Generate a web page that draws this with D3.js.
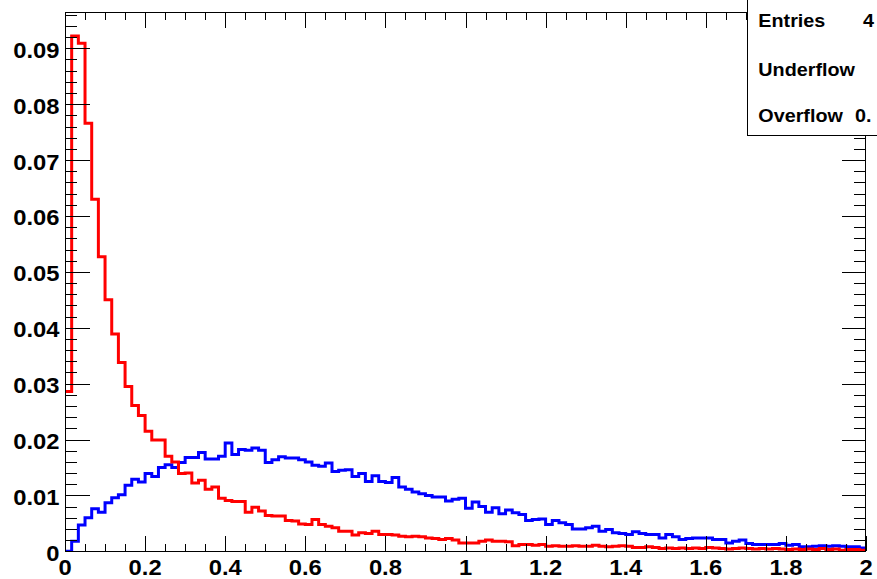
<!DOCTYPE html>
<html>
<head>
<meta charset="utf-8">
<script src="https://cdn.jsdelivr.net/npm/d3@7"></script>
<style>
  html, body { margin: 0; padding: 0; background: #fff; }
  svg { display: block; }
  text { font-family: "Liberation Sans", Arial, Helvetica, sans-serif; font-weight: bold; fill: #000; }
</style>
</head>
<body>
<svg id="chart" width="877" height="579"></svg>
<script>
// ---- data (120 bins over 0..2) ----
const xDomain = [0, 2];
const nBins = 120;
const xTickLabels = ["0", "0.2", "0.4", "0.6", "0.8", "1", "1.2", "1.4", "1.6", "1.8", "2"];
const yTickLabels = ["0", "0.01", "0.02", "0.03", "0.04", "0.05", "0.06", "0.07", "0.08", "0.09"];

const redValues = [
  0.0286, 0.0922, 0.0909, 0.0766, 0.0630, 0.0527, 0.0450, 0.0389, 0.0338, 0.0295,
  0.0261, 0.0243, 0.0215, 0.0199, 0.0199, 0.0170, 0.0160, 0.0139, 0.0140, 0.0122,
  0.0127, 0.0111, 0.0115, 0.0095, 0.0091, 0.0089, 0.0089, 0.0070, 0.0079, 0.0072,
  0.0064, 0.0063, 0.0063, 0.0055, 0.0054, 0.0049, 0.0048, 0.0057, 0.0048, 0.0045,
  0.0042, 0.0036, 0.0036, 0.0029, 0.0033, 0.0032, 0.0036, 0.0030, 0.0030, 0.0029,
  0.0027, 0.0026, 0.0027, 0.0026, 0.0024, 0.0023, 0.0021, 0.0023, 0.0020, 0.0015,
  0.0015, 0.0015, 0.0018, 0.0020, 0.0018, 0.0018, 0.0017, 0.0010, 0.0012, 0.0012,
  0.0011, 0.0012, 0.0009, 0.0010, 0.0009, 0.0009, 0.0010, 0.0009, 0.0009, 0.0011,
  0.0009, 0.0008, 0.0009, 0.0010, 0.0009, 0.0007, 0.0007, 0.0008, 0.0007, 0.0005,
  0.0006, 0.0005, 0.0006, 0.0005, 0.0006, 0.0005, 0.0007, 0.0006, 0.0005, 0.0004,
  0.0005, 0.0006, 0.0005, 0.0004, 0.0005, 0.0004, 0.0005, 0.0004, 0.0003, 0.0004,
  0.0003, 0.0004, 0.0003, 0.0005, 0.0003, 0.0004, 0.0002, 0.0003, 0.0003, 0.0002
];

const blueValues = [
  0.0000, 0.0018, 0.0047, 0.0060, 0.0076, 0.0070, 0.0087, 0.0096, 0.0101, 0.0118,
  0.0129, 0.0124, 0.0139, 0.0134, 0.0150, 0.0155, 0.0150, 0.0159, 0.0168, 0.0168,
  0.0177, 0.0165, 0.0165, 0.0170, 0.0194, 0.0173, 0.0182, 0.0181, 0.0185, 0.0181,
  0.0159, 0.0164, 0.0169, 0.0167, 0.0167, 0.0164, 0.0160, 0.0154, 0.0152, 0.0158,
  0.0143, 0.0145, 0.0146, 0.0134, 0.0139, 0.0125, 0.0135, 0.0125, 0.0123, 0.0132,
  0.0115, 0.0111, 0.0106, 0.0103, 0.0100, 0.0097, 0.0097, 0.0090, 0.0093, 0.0095,
  0.0077, 0.0088, 0.0080, 0.0070, 0.0078, 0.0067, 0.0074, 0.0069, 0.0066, 0.0055,
  0.0057, 0.0058, 0.0048, 0.0055, 0.0051, 0.0048, 0.0040, 0.0040, 0.0042, 0.0045,
  0.0036, 0.0039, 0.0033, 0.0032, 0.0030, 0.0035, 0.0032, 0.0030, 0.0030, 0.0024,
  0.0030, 0.0026, 0.0021, 0.0023, 0.0024, 0.0024, 0.0024, 0.0021, 0.0021, 0.0015,
  0.0018, 0.0020, 0.0014, 0.0012, 0.0012, 0.0012, 0.0012, 0.0014, 0.0011, 0.0012,
  0.0008, 0.0008, 0.0009, 0.0010, 0.0009, 0.0010, 0.0009, 0.0008, 0.0008, 0.0006
];

const statsLabels = ["Entries", "Underflow", "Overflow"];
const statsValues = ["4", "", "0."];

(function () {
// ---- layout ----
const W = 877, H = 579;
const pLeft = 65, pRight = 866, pTop = 12.2, pBottom = 551.3;
const yMax = 0.09646;

const svg = d3.select("#chart");
svg.append("rect").attr("width", W).attr("height", H).attr("fill", "#fff");

const x = d3.scaleLinear().domain(xDomain).range([pLeft, pRight]);
const y = d3.scaleLinear().domain([0, yMax]).range([pBottom, pTop]);

const binW = (xDomain[1] - xDomain[0]) / nBins;

function histPoints(vals) {
  const pts = vals.map((v, i) => [xDomain[0] + i * binW, v]);
  pts.push([xDomain[1], vals[vals.length - 1]]);
  return pts;
}

const line = d3.line()
  .x(d => x(d[0]))
  .y(d => y(d[1]))
  .curve(d3.curveStepAfter);

svg.append("defs").append("clipPath").attr("id", "plotclip")
  .append("rect").attr("x", pLeft).attr("y", pTop).attr("width", pRight - pLeft).attr("height", pBottom - pTop);

const plot = svg.append("g").attr("clip-path", "url(#plotclip)");

plot.append("path")
  .attr("d", line(histPoints(blueValues)))
  .attr("fill", "none").attr("stroke", "#0000ff").attr("stroke-width", 3)
  .attr("stroke-linejoin", "miter");

plot.append("path")
  .attr("d", line(histPoints(redValues)))
  .attr("fill", "none").attr("stroke", "#ff0000").attr("stroke-width", 3)
  .attr("stroke-linejoin", "miter");

// ---- axes (ROOT style frame with ticks on all four sides) ----
const axes = svg.append("g").attr("stroke", "#000").attr("stroke-width", 1).attr("shape-rendering", "crispEdges");

// x ticks: major every 0.2, minor every 0.05
const xMinor = d3.range(0, 41).map(i => i * 0.05);
xMinor.forEach((v, i) => {
  const major = i % 4 === 0;
  const len = major ? 15.5 : 7.5;
  const px = Math.round(x(v)) + 0.5;
  axes.append("line").attr("x1", px).attr("x2", px).attr("y1", pBottom).attr("y2", pBottom - len);
  axes.append("line").attr("x1", px).attr("x2", px).attr("y1", pTop).attr("y2", pTop + len);
});

// y ticks: major every 0.01, minor every 0.002
const yMinor = d3.range(0, 49).map(i => i * 0.002).filter(v => v <= yMax + 1e-9);
yMinor.forEach((v, i) => {
  const major = i % 5 === 0;
  const len = major ? 24.5 : 12;
  const py = Math.round(y(v)) + 0.5;
  axes.append("line").attr("x1", pLeft).attr("x2", pLeft + len).attr("y1", py).attr("y2", py);
  axes.append("line").attr("x1", pRight).attr("x2", pRight - len).attr("y1", py).attr("y2", py);
});

// frame
axes.append("rect")
  .attr("x", pLeft + 0.5).attr("y", Math.round(pTop) + 0.5)
  .attr("width", pRight - pLeft - 1).attr("height", Math.round(pBottom) - Math.round(pTop))
  .attr("fill", "none");

// x labels
const xl = svg.append("g");
xTickLabels.forEach((t, i) => {
  const v = i * 0.2;
  xl.append("g").attr("transform", `translate(${x(v)},574.5) scale(1.08,1)`)
    .append("text").attr("text-anchor", "middle").attr("font-size", 22).text(t);
});

// y labels
const yl = svg.append("g");
yTickLabels.forEach((t, i) => {
  const v = i * 0.01;
  yl.append("g").attr("transform", `translate(59.5,${y(v) + 9.5}) scale(1.08,1)`)
    .append("text").attr("text-anchor", "end").attr("font-size", 22).text(t);
});

// ---- stats box ----
const stats = svg.append("g");
stats.append("rect")
  .attr("x", 747.5).attr("y", -2).attr("width", 140).attr("height", 137.5)
  .attr("fill", "#fff").attr("stroke", "#000").attr("stroke-width", 1)
  .attr("shape-rendering", "crispEdges");
const baselines = [27.3, 75.8, 121.7];
const valueX = [863, 870, 855];
statsLabels.forEach((t, i) => {
  stats.append("g").attr("transform", `translate(758.3,${baselines[i]}) scale(1.13,1)`)
    .append("text").attr("font-size", 17.5).text(t);
  if (statsValues[i]) {
    stats.append("g").attr("transform", `translate(${valueX[i]},${baselines[i]}) scale(1.13,1)`)
      .append("text").attr("font-size", 17.5).text(statsValues[i]);
  }
});
})();
</script>
</body>
</html>
